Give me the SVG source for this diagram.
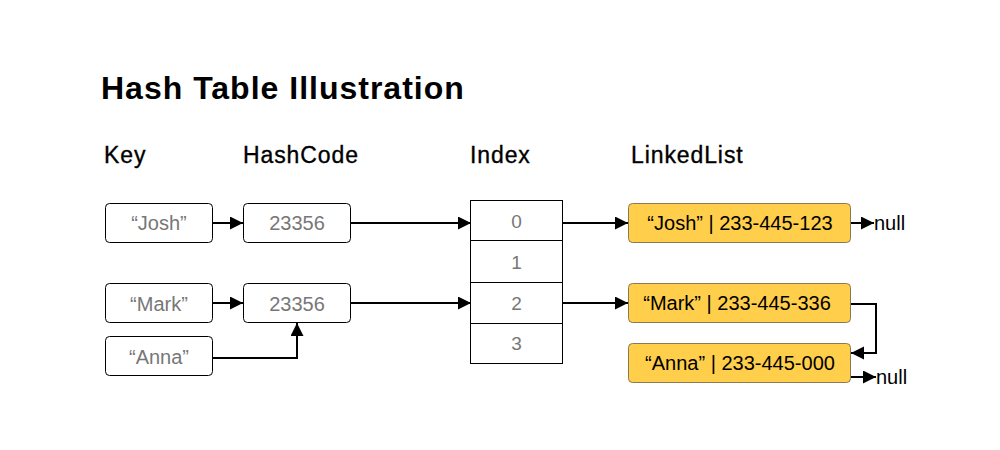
<svg xmlns="http://www.w3.org/2000/svg" width="1000" height="450" viewBox="0 0 1000 450">
<defs>
<style>
.t{font-family:"Liberation Sans",Arial,sans-serif}
.title{font-size:32px;font-weight:bold;fill:#000;letter-spacing:1px}
.hdr{font-size:23px;fill:#000;stroke:#000;stroke-width:0.35px;letter-spacing:0.9px}
.box{fill:#fff;stroke:#000;stroke-width:1}
.cell{fill:#fff;stroke:#000;stroke-width:1}
.ll{fill:#FFCE4A;stroke:#8a7a50;stroke-width:1}
.gt{font-size:20px;fill:#777;text-anchor:middle}
.it{font-size:19px;fill:#777;text-anchor:middle}
.bt{font-size:20px;fill:#000;text-anchor:middle}
.nt{font-size:20px;fill:#000}
.c{fill:none;stroke:#000;stroke-width:2}
</style>
<marker id="ah" markerWidth="14" markerHeight="14" refX="13" refY="6.5" orient="auto" markerUnits="userSpaceOnUse">
<path d="M0,0 L13,6.5 L0,13 z" fill="#000"/>
</marker>
</defs>
<rect width="1000" height="450" fill="#fff"/>
<text class="t title" x="101" y="99">Hash Table Illustration</text>
<text class="t hdr" x="104" y="163">Key</text>
<text class="t hdr" x="243" y="163">HashCode</text>
<text class="t hdr" x="470" y="163">Index</text>
<text class="t hdr" x="631" y="163">LinkedList</text>

<g id="key-josh"><rect class="box" x="105.5" y="203.5" width="107" height="39" rx="4"/><text class="t gt" x="159" y="230">“Josh”</text></g>
<g id="key-mark"><rect class="box" x="105.5" y="283.5" width="107" height="39" rx="4"/><text class="t gt" x="159" y="311">“Mark”</text></g>
<g id="key-anna"><rect class="box" x="105.5" y="336.5" width="107" height="39" rx="4"/><text class="t gt" x="159" y="364">“Anna”</text></g>
<g id="hash-1"><rect class="box" x="243.5" y="203.5" width="107" height="39" rx="4"/><text class="t gt" x="297" y="230">23356</text></g>
<g id="hash-2"><rect class="box" x="243.5" y="283.5" width="107" height="39" rx="4"/><text class="t gt" x="297" y="311">23356</text></g>

<g id="index">
<rect class="cell" x="470.5" y="200.5" width="92" height="40"/><text class="t it" x="516.5" y="228">0</text>
<rect class="cell" x="470.5" y="240.5" width="92" height="42"/><text class="t it" x="516.5" y="269">1</text>
<rect class="cell" x="470.5" y="282.5" width="92" height="41"/><text class="t it" x="516.5" y="310">2</text>
<rect class="cell" x="470.5" y="323.5" width="92" height="40"/><text class="t it" x="516.5" y="350">3</text>
</g>

<g id="ll-josh"><rect class="ll" x="628.5" y="203.5" width="222" height="39" rx="4"/><text class="t bt" x="740" y="230">“Josh” | 233-445-123</text></g>
<g id="ll-mark"><rect class="ll" x="628.5" y="283.5" width="222" height="39" rx="4"/><text class="t bt" x="737" y="310">“Mark” | 233-445-336</text></g>
<g id="ll-anna"><rect class="ll" x="628.5" y="343.5" width="222" height="39" rx="4"/><text class="t bt" x="740" y="370">“Anna” | 233-445-000</text></g>
<text class="t nt" x="874" y="230">null</text>
<text class="t nt" x="876" y="384">null</text>

<g id="connectors">
<line class="c" x1="212" y1="223" x2="243" y2="223" marker-end="url(#ah)"/>
<line class="c" x1="212" y1="303" x2="243" y2="303" marker-end="url(#ah)"/>
<polyline class="c" points="212,358 297,358 297,323" marker-end="url(#ah)"/>
<line class="c" x1="350" y1="223" x2="471" y2="223" marker-end="url(#ah)"/>
<line class="c" x1="350" y1="303" x2="471" y2="303" marker-end="url(#ah)"/>
<line class="c" x1="562" y1="223" x2="628" y2="223" marker-end="url(#ah)"/>
<line class="c" x1="562" y1="303" x2="628" y2="303" marker-end="url(#ah)"/>
<polyline class="c" points="851,304 876,304 876,353 851,353" marker-end="url(#ah)"/>
<line class="c" x1="851" y1="223" x2="874" y2="223" marker-end="url(#ah)"/>
<line class="c" x1="851" y1="377" x2="876" y2="377" marker-end="url(#ah)"/>
</g>
</svg>
